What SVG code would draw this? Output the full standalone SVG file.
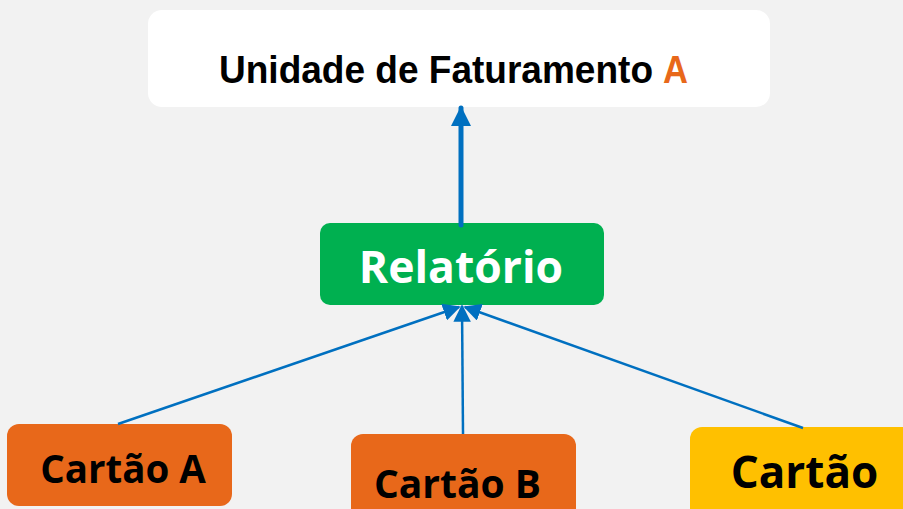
<svg xmlns="http://www.w3.org/2000/svg" width="903" height="509" viewBox="0 0 903 509">
<defs>
<style>
.lbl{font-family:"Open Sans","DejaVu Sans",sans-serif;font-weight:bold;text-anchor:middle}
.ttl{font-family:"Liberation Sans",Arial,sans-serif;font-weight:bold;font-size:38px}
.conn{stroke:#0070C0;fill:none}
</style>
<marker id="ah" viewBox="0 0 10 10" refX="9" refY="5" markerWidth="4" markerHeight="4" orient="auto" markerUnits="strokeWidth"><path d="M0,0 L10,5 L0,10 z" fill="#0070C0"/></marker>
<marker id="ah2" viewBox="0 0 10 10" refX="9" refY="5" markerWidth="7" markerHeight="7" orient="auto" markerUnits="strokeWidth"><path d="M0,0 L10,5 L0,10 z" fill="#0070C0"/></marker>
</defs>
<rect width="903" height="509" fill="#F2F2F2"/>
<g id="unidade">
<rect x="148" y="10" width="622" height="97" rx="14" fill="#FFFFFF"/>
<text class="ttl" x="219" y="83" fill="#000000" textLength="434" lengthAdjust="spacingAndGlyphs">Unidade de Faturamento</text>
<text class="ttl" x="663" y="83" fill="#E8681A" textLength="25" lengthAdjust="spacingAndGlyphs">A</text>
</g>
<g id="relatorio">
<rect x="320" y="223" width="284" height="82" rx="10" fill="#00B050"/>
<text class="lbl" x="461" y="283" font-size="44.5" fill="#FFFFFF">Relatório</text>
</g>
<g id="cartaoA">
<rect x="7" y="424" width="225" height="82" rx="12" fill="#E8681A"/>
<text class="lbl" x="123" y="483" font-size="38.5" fill="#000000">Cartão A</text>
</g>
<g id="cartaoB">
<rect x="351" y="434" width="225" height="90" rx="12" fill="#E8681A"/>
<text class="lbl" x="457.5" y="498" font-size="39" fill="#000000">Cartão B</text>
</g>
<g id="cartaoC">
<rect x="690" y="427" width="240" height="100" rx="12" fill="#FFC000"/>
<text class="lbl" x="804.5" y="488" font-size="44" fill="#000000">Cartão</text>
</g>
<g id="connectors">
<line class="conn" x1="461" y1="225" x2="461" y2="108" stroke-width="5" stroke-linecap="round" marker-end="url(#ah)"/>
<line class="conn" x1="118" y1="424" x2="459" y2="307" stroke-width="2.5" marker-end="url(#ah2)"/>
<line class="conn" x1="463" y1="434" x2="462" y2="306" stroke-width="2.5" marker-end="url(#ah2)"/>
<line class="conn" x1="803" y1="428" x2="465" y2="307" stroke-width="2.5" marker-end="url(#ah2)"/>
</g>
</svg>
